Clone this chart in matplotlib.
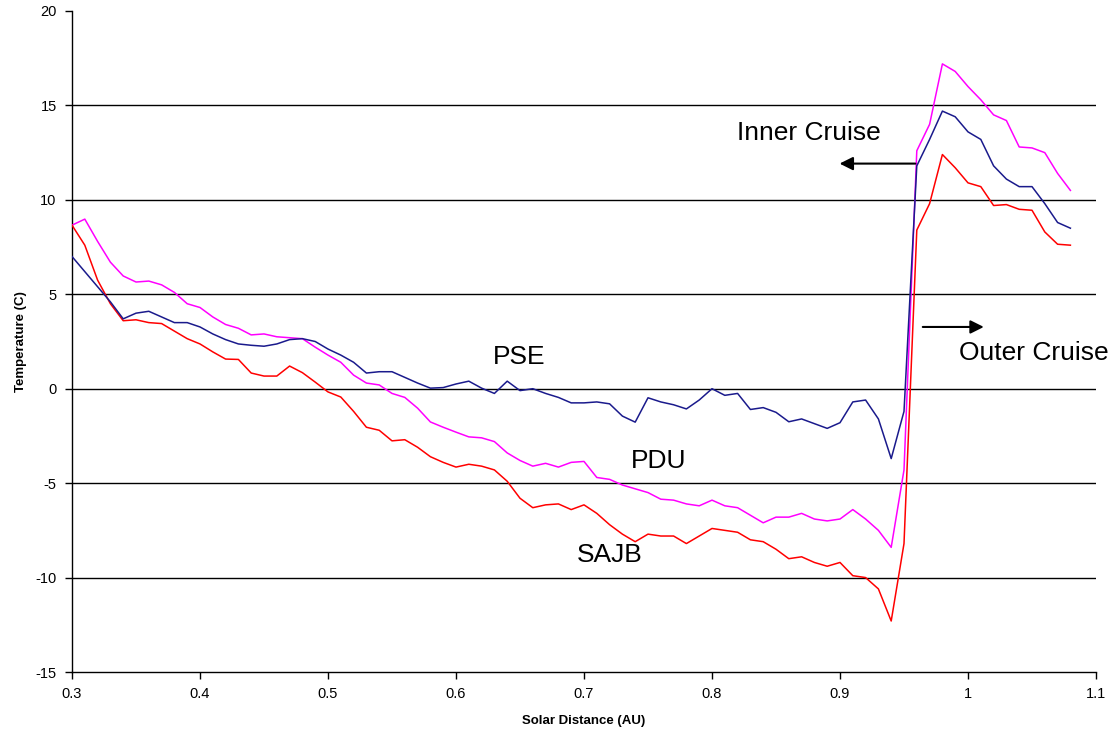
import numpy as np
import matplotlib
matplotlib.use("Agg")
import matplotlib.pyplot as plt

distance = [round(0.30 + 0.01 * i, 2) for i in range(79)]

pse = [7.0, 6.2, 5.4, 4.6, 3.7, 4.0, 4.1, 3.8, 3.5, 3.5,
       3.27, 2.9, 2.6, 2.37, 2.3, 2.25, 2.37, 2.6, 2.65, 2.5,
       2.1, 1.78, 1.4, 0.83, 0.9, 0.9, 0.6, 0.3, 0.03, 0.06,
       0.25, 0.4, 0.03, -0.25, 0.4, -0.1, 0.0, -0.25, -0.46, -0.75,
       -0.75, -0.7, -0.8, -1.45, -1.77, -0.48, -0.7, -0.85, -1.07, -0.6,
       0.0, -0.35, -0.25, -1.1, -1.0, -1.25, -1.75, -1.6, -1.85, -2.1,
       -1.8, -0.7, -0.6, -1.6, -3.7, -1.2, 11.8, 13.2, 14.7, 14.4,
       13.6, 13.2, 11.8, 11.1, 10.7, 10.7, 9.8, 8.8, 8.5]

pdu = [8.66, 8.98, 7.8, 6.7, 5.97, 5.65, 5.7, 5.5, 5.1, 4.5,
       4.3, 3.8, 3.4, 3.2, 2.85, 2.9, 2.75, 2.7, 2.65, 2.2,
       1.78, 1.4, 0.72, 0.3, 0.2, -0.25, -0.46, -1.03, -1.76, -2.04,
       -2.3, -2.55, -2.6, -2.8, -3.4, -3.8, -4.1, -3.95, -4.15, -3.9,
       -3.85, -4.7, -4.8, -5.1, -5.3, -5.5, -5.85, -5.9, -6.1, -6.2,
       -5.9, -6.2, -6.3, -6.7, -7.1, -6.8, -6.8, -6.6, -6.9, -7.0,
       -6.9, -6.4, -6.9, -7.5, -8.4, -4.3, 12.6, 14.0, 17.2, 16.8,
       16.0, 15.3, 14.5, 14.2, 12.8, 12.75, 12.5, 11.4, 10.5]

sajb = [8.66, 7.6, 5.75, 4.5, 3.6, 3.65, 3.5, 3.45, 3.05, 2.65,
        2.37, 1.95, 1.57, 1.55, 0.83, 0.67, 0.67, 1.2, 0.85, 0.35,
        -0.17, -0.44, -1.2, -2.04, -2.2, -2.76, -2.7, -3.1, -3.6, -3.9,
        -4.15, -4.0, -4.1, -4.3, -4.9, -5.8, -6.3, -6.15, -6.1, -6.4,
        -6.15, -6.6, -7.2, -7.7, -8.1, -7.7, -7.8, -7.8, -8.2, -7.8,
        -7.4, -7.5, -7.6, -8.0, -8.1, -8.5, -9.0, -8.9, -9.2, -9.4,
        -9.2, -9.9, -10.0, -10.6, -12.3, -8.2, 8.4, 9.8, 12.4, 11.7,
        10.9, 10.7, 9.7, 9.75, 9.5, 9.45, 8.3, 7.65, 7.6]

x_ticks = [0.3, 0.4, 0.5, 0.6, 0.7, 0.8, 0.9, 1.0, 1.1]
x_tick_labels = ["0.3", "0.4", "0.5", "0.6", "0.7", "0.8", "0.9", "1", "1.1"]
y_ticks = [-15, -10, -5, 0, 5, 10, 15, 20]

W, H = 1113, 738
fig = plt.figure(figsize=(W / 100, H / 100), dpi=100)
ax = fig.add_axes([72 / W, 1 - 672 / H, (1096 - 72) / W, (672 - 11) / H])

font = ["Liberation Sans", "DejaVu Sans"]
narrow = ["Liberation Sans Narrow", "Liberation Sans", "DejaVu Sans"]

for yv in y_ticks[1:-1]:
    ax.axhline(yv, color="#000000", lw=1.0, zorder=1)

ax.plot(distance, pdu, color="#FF00FF", lw=1.1, zorder=3)
ax.plot(distance, sajb, color="#FF0000", lw=1.1, zorder=4)
ax.plot(distance, pse, color="#1A1A8C", lw=1.1, zorder=5)

ax.set_xlim(0.3, 1.1)
ax.set_ylim(-15, 20)
ax.set_xticks(x_ticks)
ax.set_xticklabels(x_tick_labels, family=narrow, fontsize=10.5)
ax.set_yticks(y_ticks)
ax.set_yticklabels([str(v) for v in y_ticks], family=font, fontsize=10.5)
ax.tick_params(direction="out", length=5, width=1, colors="#000000", pad=6)

for side in ["top", "right"]:
    ax.spines[side].set_visible(False)
ax.spines["left"].set_linewidth(1.0)
ax.spines["bottom"].set_linewidth(1.0)

ax.set_xlabel("Solar Distance (AU)", family=narrow, fontsize=9.5, fontweight="bold", labelpad=10)
ax.set_ylabel("Temperature (C)", family=narrow, fontsize=9.5, fontweight="bold", labelpad=6)

tk = dict(family=font, fontsize=19, ha="center", va="center", color="#000000")
ax.text(0.649, 1.68, "PSE", **tk)
ax.text(0.758, -3.83, "PDU", **tk)
ax.text(0.720, -8.8, "SAJB", **tk)
ax.text(0.876, 13.54, "Inner Cruise", **tk)
ax.text(1.0516, 1.89, "Outer Cruise", **tk)

ax.annotate("", xy=(0.8975, 11.92), xytext=(0.961, 11.92),
            arrowprops=dict(arrowstyle="-|>", color="#000000", lw=1.5, mutation_scale=20))
ax.annotate("", xy=(1.0145, 3.27), xytext=(0.9625, 3.27),
            arrowprops=dict(arrowstyle="-|>", color="#000000", lw=1.5, mutation_scale=20))

fig.savefig("out.png", dpi=100)
